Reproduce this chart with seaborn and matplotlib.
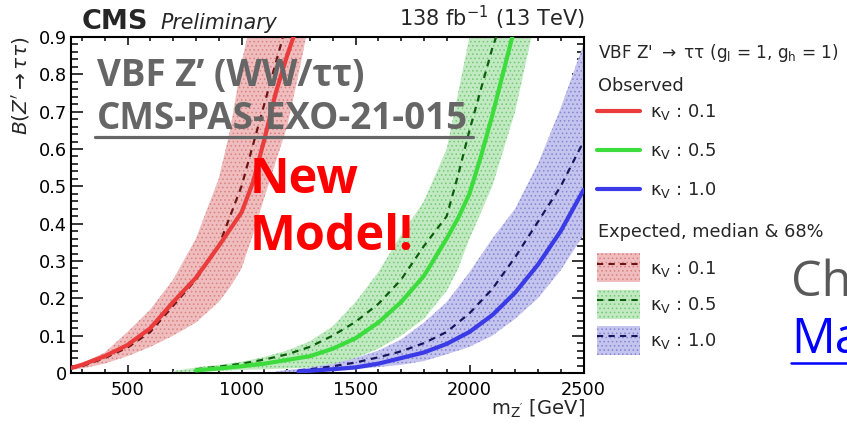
import numpy as np
import pandas as pd
import matplotlib
matplotlib.use("Agg")
import matplotlib.pyplot as plt
import seaborn as sns
from matplotlib.lines import Line2D
from matplotlib.patches import Patch
from matplotlib.ticker import MultipleLocator, FuncFormatter

# ---------------- data ----------------
kappa_labels = ["0.1", "0.5", "1.0"]

mass_k01 = [250, 300, 400, 500, 600, 700, 800, 900, 950, 1000, 1050, 1100, 1150, 1200, 1250, 1300]
obs_k01 = [0.013, 0.022, 0.045, 0.075, 0.12, 0.19, 0.255, 0.34, 0.385, 0.43, 0.51, 0.625, 0.75, 0.85, 0.94, 1.03]
exp_k01 = [0.012, 0.018, 0.04, 0.068, 0.11, 0.18, 0.25, 0.34, 0.42, 0.5, 0.61, 0.72, 0.83, 0.94, 1.05, 1.15]
lo_k01 = [0.008, 0.012, 0.025, 0.045, 0.07, 0.1, 0.135, 0.19, 0.23, 0.28, 0.37, 0.47, 0.565, 0.66, 0.8, 0.95]
hi_k01 = [0.015, 0.025, 0.055, 0.11, 0.17, 0.25, 0.36, 0.52, 0.65, 0.83, 0.97, 1.1, 1.2, 1.3, 1.4, 1.5]

mass_k05 = [800, 900, 1000, 1100, 1200, 1300, 1400, 1500, 1600, 1700, 1800, 1900, 1950, 2000, 2050, 2100, 2200, 2300]
obs_k05 = [0.007, 0.012, 0.018, 0.025, 0.035, 0.045, 0.065, 0.093, 0.135, 0.19, 0.26, 0.36, 0.415, 0.48, 0.58, 0.69, 0.93, 1.15]
exp_k05 = [0.01, 0.017, 0.025, 0.036, 0.05, 0.07, 0.1, 0.137, 0.185, 0.25, 0.34, 0.42, 0.53, 0.65, 0.76, 0.87, 1.05, 1.25]
mass_band_k05 = [700, 800, 900, 1000, 1100, 1200, 1300, 1400, 1500, 1600, 1700, 1800, 1900, 1950, 2000, 2100, 2200, 2300]
lo_k05 = [0.002, 0.004, 0.006, 0.008, 0.01, 0.012, 0.015, 0.02, 0.04, 0.065, 0.1, 0.145, 0.22, 0.28, 0.36, 0.5, 0.7, 0.98]
hi_k05 = [0.005, 0.015, 0.022, 0.03, 0.043, 0.06, 0.085, 0.125, 0.19, 0.27, 0.37, 0.46, 0.6, 0.75, 0.9, 1.1, 1.3, 1.5]

mass_k10 = [1250, 1300, 1400, 1500, 1600, 1700, 1800, 1900, 2000, 2100, 2200, 2300, 2400, 2500]
obs_k10 = [0.004, 0.006, 0.01, 0.015, 0.025, 0.04, 0.055, 0.078, 0.11, 0.155, 0.215, 0.29, 0.38, 0.49]
exp_k10 = [0.007, 0.01, 0.018, 0.028, 0.042, 0.058, 0.08, 0.11, 0.16, 0.225, 0.31, 0.405, 0.5, 0.62]
mass_band_k10 = [1150, 1200, 1300, 1400, 1500, 1600, 1700, 1800, 1900, 2000, 2100, 2200, 2300, 2400, 2500]
lo_k10 = [0.001, 0.002, 0.004, 0.007, 0.01, 0.016, 0.022, 0.032, 0.05, 0.07, 0.1, 0.145, 0.2, 0.275, 0.37]
hi_k10 = [0.004, 0.008, 0.015, 0.025, 0.04, 0.06, 0.09, 0.135, 0.19, 0.27, 0.36, 0.44, 0.56, 0.71, 0.88]

# ---------------- style ----------------
sns.set_theme(style="ticks")
plt.rcParams['font.family'] = ['DejaVu Sans']
plt.rcParams['mathtext.fontset'] = 'dejavusans'
plt.rcParams['hatch.linewidth'] = 0.6

W, H = 847, 425
fig = plt.figure(figsize=(W / 100, H / 100), dpi=100)
L, R, T, B = 70.5, 583.5, 37, 373
ax = fig.add_axes([L / W, 1 - B / H, (R - L) / W, (B - T) / H])

obs_colors = ['#ea3c3c', '#3ddc3d', '#3a3ae6']
exp_colors = ['#6e1414', '#0b5e0b', '#16165e']
band_face = ['#efbdbd', '#c2eac2', '#c4c4ee']
band_hatch = ['#d98080', '#74c874', '#8585d2']

band_sets = [(mass_k01, lo_k01, hi_k01), (mass_band_k05, lo_k05, hi_k05), (mass_band_k10, lo_k10, hi_k10)]
exp_sets = [(mass_k01, exp_k01), (mass_k05, exp_k05), (mass_k10, exp_k10)]
obs_sets = [(mass_k01, obs_k01), (mass_k05, obs_k05), (mass_k10, obs_k10)]

for i, (m, lo, hi) in enumerate(band_sets):
    ax.fill_between(m, lo, hi, facecolor=band_face[i], edgecolor=band_hatch[i],
                    hatch='....', linewidth=0, zorder=1)
for i, (m, e) in enumerate(exp_sets):
    sns.lineplot(x=m, y=e, ax=ax, color=exp_colors[i], linewidth=1.6,
                 linestyle=(0, (3, 2.5)), zorder=3)
for i, (m, o) in enumerate(obs_sets):
    sns.lineplot(x=m, y=o, ax=ax, color=obs_colors[i], linewidth=3.0, zorder=4)

ax.set_xlim(250, 2500)
ax.set_ylim(0, 0.9)
ax.set_xlabel("")
ax.set_ylabel("")
ax.xaxis.set_major_locator(MultipleLocator(500))
ax.xaxis.set_minor_locator(MultipleLocator(100))
ax.yaxis.set_major_locator(MultipleLocator(0.1))
ax.yaxis.set_minor_locator(MultipleLocator(0.02))
ax.yaxis.set_major_formatter(FuncFormatter(lambda v, p: '0' if abs(v) < 1e-9 else f'{v:.1f}'))
ax.xaxis.set_major_formatter(FuncFormatter(lambda v, p: f'{int(round(v))}'))
ax.tick_params(which='both', direction='in', top=True, right=True, colors='black',
               labelsize=12.8, width=1.1)
ax.tick_params(axis='y', which='major', length=8.6, pad=2.5)
ax.tick_params(axis='y', which='minor', length=5)
ax.tick_params(axis='x', which='major', length=5.8, pad=5.5)
ax.tick_params(axis='x', which='minor', length=3)
for s in ax.spines.values():
    s.set_linewidth(1.5)
    s.set_color('black')

def fx(x):
    return x / W

def fy(y):
    return 1 - y / H

# header texts
fig.text(fx(82), fy(29), "CMS", fontsize=19.5, fontweight='bold', ha='left', va='baseline')
fig.text(fx(160), fy(29), "Preliminary", fontsize=14.8, fontstyle='italic', ha='left', va='baseline')
fig.text(fx(585), fy(26), r"138 fb$^{-1}$ (13 TeV)", fontsize=15, ha='right', va='baseline')
fig.text(fx(21), fy(37), r"$B(Z' \rightarrow \tau\tau)$", fontsize=14.5, rotation=90, ha='center', va='top')
fig.text(fx(585), fy(415), r"m$_{\mathregular{Z'}}$ [GeV]", fontsize=14, ha='right', va='baseline')

# legend
fig.text(fx(598), fy(53), r"VBF Z' $\rightarrow$ ττ (g$_{\mathregular{l}}$ = 1, g$_{\mathregular{h}}$ = 1)",
         fontsize=12.2, ha='left', va='center')
fig.text(fx(598), fy(86), "Observed", fontsize=12.8, ha='left', va='center')
fig.text(fx(598), fy(232), "Expected, median & 68%", fontsize=12.8, ha='left', va='center')

obs_handles = [Line2D([], [], color=c, lw=3) for c in obs_colors]
exp_handles = [(Patch(facecolor=band_face[i], edgecolor=band_hatch[i], hatch='....', linewidth=0),
                Line2D([], [], color=exp_colors[i], lw=1.5, linestyle=(0, (3, 2.5))))
               for i in range(3)]
labels = [f"κ$_{{\\mathregular{{V}}}}$ : {k}" for k in kappa_labels]

leg1 = fig.legend(obs_handles, labels, loc='upper left', bbox_to_anchor=(fx(592), fy(97)),
                  frameon=False, fontsize=13, handlelength=2.35, handletextpad=0.55,
                  labelspacing=1.05, borderaxespad=0, borderpad=0.3)
leg2 = fig.legend(exp_handles, labels, loc='upper left', bbox_to_anchor=(fx(592), fy(248)),
                  frameon=False, fontsize=13, handlelength=2.35, handleheight=2.1,
                  handletextpad=0.55, labelspacing=0.4, borderaxespad=0, borderpad=0.3)

# slide overlay annotations
fig.text(fx(97), fy(76), "VBF Z’ (WW/ττ)", fontfamily='Open Sans', fontweight='bold',
         fontsize=26.5, color='#666666', ha='left', va='center')
fig.text(fx(97), fy(119), "CMS-PAS-EXO-21-015", fontfamily='Open Sans', fontweight='bold',
         fontsize=26.5, color='#666666', ha='left', va='center')
fig.add_artist(Line2D([fx(95), fx(473)], [fy(137), fy(137)], color='#666666', lw=2.3))
fig.text(fx(250), fy(180), "New", fontfamily='Open Sans', fontweight='bold',
         fontsize=35, color='#ff0000', ha='left', va='center')
fig.text(fx(250), fy(237), "Model!", fontfamily='Open Sans', fontweight='bold',
         fontsize=35, color='#ff0000', ha='left', va='center')
fig.text(fx(791), fy(283), "Ch", fontfamily='Open Sans', fontsize=35, color='#595959',
         ha='left', va='center')
fig.text(fx(791), fy(340), "Ma", fontfamily='Open Sans', fontsize=35, color='#0000ff',
         ha='left', va='center')
fig.add_artist(Line2D([fx(791), fx(847)], [fy(363), fy(363)], color='#0000ff', lw=1.8))

fig.savefig("out.png", dpi=100)
